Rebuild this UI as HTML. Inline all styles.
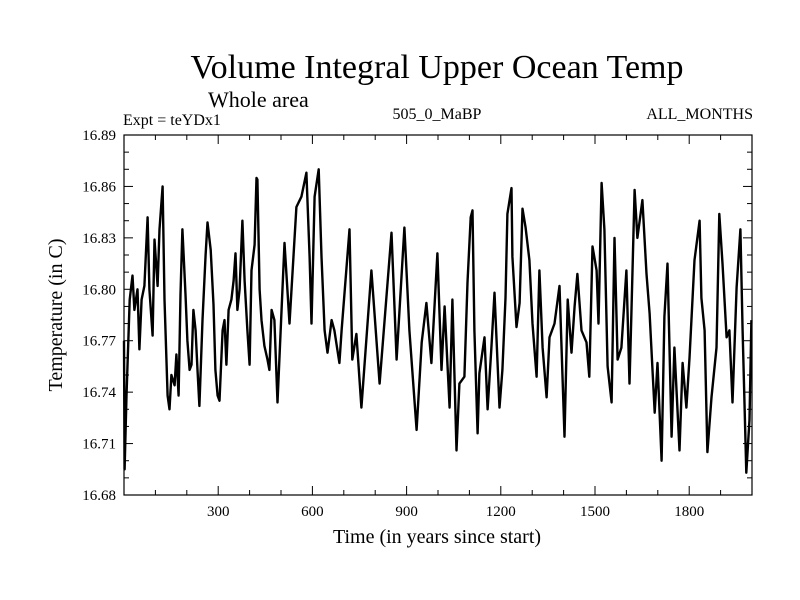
<!DOCTYPE html>
<html><head><meta charset="utf-8"><style>
body{margin:0;background:#fff}
svg{display:block;font-family:"Liberation Serif",serif}
</style></head><body>
<svg id="chart" width="800" height="600" viewBox="0 0 800 600">
<rect width="800" height="600" fill="#fff"/>
<text x="437" y="78" font-size="34" text-anchor="middle">Volume Integral Upper Ocean Temp</text>
<text x="208" y="107" font-size="22">Whole area</text>
<text x="123" y="125" font-size="16">Expt = teYDx1</text>
<text x="437" y="119" font-size="16" text-anchor="middle">505_0_MaBP</text>
<text x="753" y="119" font-size="16" text-anchor="end">ALL_MONTHS</text>
<text x="437" y="543" font-size="20" text-anchor="middle">Time (in years since start)</text>
<text transform="translate(62,315) rotate(-90)" font-size="20" text-anchor="middle">Temperature (in C)</text>
<g id="axes"></g>
<path id="series" fill="none" stroke="#000" stroke-width="2.4" stroke-linejoin="round"/>
<rect x="124" y="135" width="628" height="360" fill="none" stroke="#000" stroke-width="1.2"/>
</svg>
<script>
const years=[0,2,8,18,27,33,43,49,56,65,75,81,91,97,107,113,123,129,139,145,151,161,167,174,180,186,196,202,209,215,221,228,234,240,250,260,266,276,285,291,298,304,314,320,326,333,342,349,355,361,368,377,384,393,400,406,416,422,425,432,438,447,457,463,470,479,489,511,527,549,565,581,591,597,607,620,629,639,648,661,670,686,693,718,727,740,756,788,814,852,868,893,909,932,948,963,979,989,998,1011,1021,1037,1046,1059,1068,1084,1094,1104,1110,1116,1126,1132,1148,1158,1170,1180,1196,1205,1215,1221,1234,1237,1250,1260,1269,1279,1291,1301,1314,1323,1333,1346,1355,1371,1387,1403,1413,1425,1435,1444,1457,1473,1482,1492,1505,1511,1521,1530,1540,1553,1562,1572,1584,1600,1610,1616,1626,1635,1651,1664,1674,1690,1699,1712,1721,1731,1744,1753,1769,1779,1791,1801,1817,1833,1839,1849,1858,1871,1887,1896,1906,1919,1928,1938,1951,1963,1970,1982,1992,1998];
const temps=[16.770,16.695,16.738,16.794,16.808,16.788,16.800,16.765,16.794,16.802,16.842,16.800,16.773,16.829,16.802,16.835,16.860,16.794,16.738,16.730,16.750,16.744,16.762,16.738,16.797,16.835,16.797,16.770,16.753,16.756,16.788,16.776,16.753,16.732,16.782,16.820,16.839,16.823,16.791,16.753,16.738,16.735,16.776,16.782,16.756,16.788,16.794,16.805,16.821,16.788,16.800,16.840,16.805,16.776,16.756,16.811,16.826,16.865,16.864,16.800,16.782,16.767,16.759,16.753,16.788,16.782,16.734,16.827,16.780,16.848,16.854,16.868,16.819,16.780,16.854,16.870,16.819,16.776,16.763,16.782,16.776,16.757,16.776,16.835,16.759,16.774,16.731,16.811,16.745,16.833,16.759,16.836,16.776,16.718,16.769,16.792,16.757,16.790,16.821,16.753,16.790,16.731,16.794,16.706,16.745,16.749,16.804,16.842,16.846,16.776,16.716,16.751,16.772,16.730,16.766,16.798,16.731,16.753,16.795,16.844,16.859,16.819,16.778,16.792,16.847,16.836,16.817,16.780,16.749,16.811,16.766,16.737,16.772,16.780,16.802,16.714,16.794,16.763,16.790,16.809,16.776,16.769,16.749,16.825,16.811,16.780,16.862,16.835,16.755,16.734,16.830,16.759,16.766,16.811,16.745,16.786,16.858,16.830,16.852,16.809,16.786,16.728,16.757,16.700,16.784,16.815,16.714,16.766,16.706,16.757,16.731,16.760,16.817,16.840,16.795,16.776,16.705,16.737,16.766,16.844,16.815,16.772,16.776,16.734,16.801,16.835,16.776,16.693,16.724,16.782];
const xTickLabels=[300,600,900,1200,1500,1800];
const yTickLabels=["16.68","16.71","16.74","16.77","16.80","16.83","16.86","16.89"];
const X0=124,X1=752,Y0=495,Y1=135,XMIN=0,XMAX=2000,YMIN=16.68,YMAX=16.89;
const sx=v=>X0+(v-XMIN)/(XMAX-XMIN)*(X1-X0);
const sy=v=>Y0-(v-YMIN)/(YMAX-YMIN)*(Y0-Y1);
const NS="http://www.w3.org/2000/svg";
const axes=document.getElementById('axes');
function line(x1,y1,x2,y2,name){const l=document.createElementNS(NS,'line');
l.setAttribute('x1',x1);l.setAttribute('y1',y1);l.setAttribute('x2',x2);l.setAttribute('y2',y2);
l.setAttribute('stroke','#000');l.setAttribute('stroke-width','1');


axes.appendChild(l);}
function txt(x,y,s,anchor,name){const t=document.createElementNS(NS,'text');
t.setAttribute('x',x);t.setAttribute('y',y);t.setAttribute('font-size','15');t.setAttribute('text-anchor',anchor);t.textContent=s;


axes.appendChild(t);}
for(let yr=100;yr<XMAX;yr+=100){const x=sx(yr);const major=yr%300===0;const L=major?9:5;
line(x,Y0,x,Y0-L,'x-tick');line(x,Y1,x,Y1+L,'x-tick-top');}
xTickLabels.forEach(v=>txt(sx(v),516,String(v),'middle','x-tick-label'));
for(let i=0;i<=21;i++){const v=YMIN+i*0.01;const y=sy(v);const major=i%3===0;const L=major?9:5;
line(X0,y,X0+L,y,'y-tick');line(X1,y,X1-L,y,'y-tick-right');}
yTickLabels.forEach(s=>txt(116,sy(parseFloat(s))+5,s,'end','y-tick-label'));
let d='';years.forEach((yr,i)=>{d+=(i?'L':'M')+sx(yr).toFixed(1)+','+sy(temps[i]).toFixed(1);});
document.getElementById('series').setAttribute('d',d);
</script>
</body></html>
